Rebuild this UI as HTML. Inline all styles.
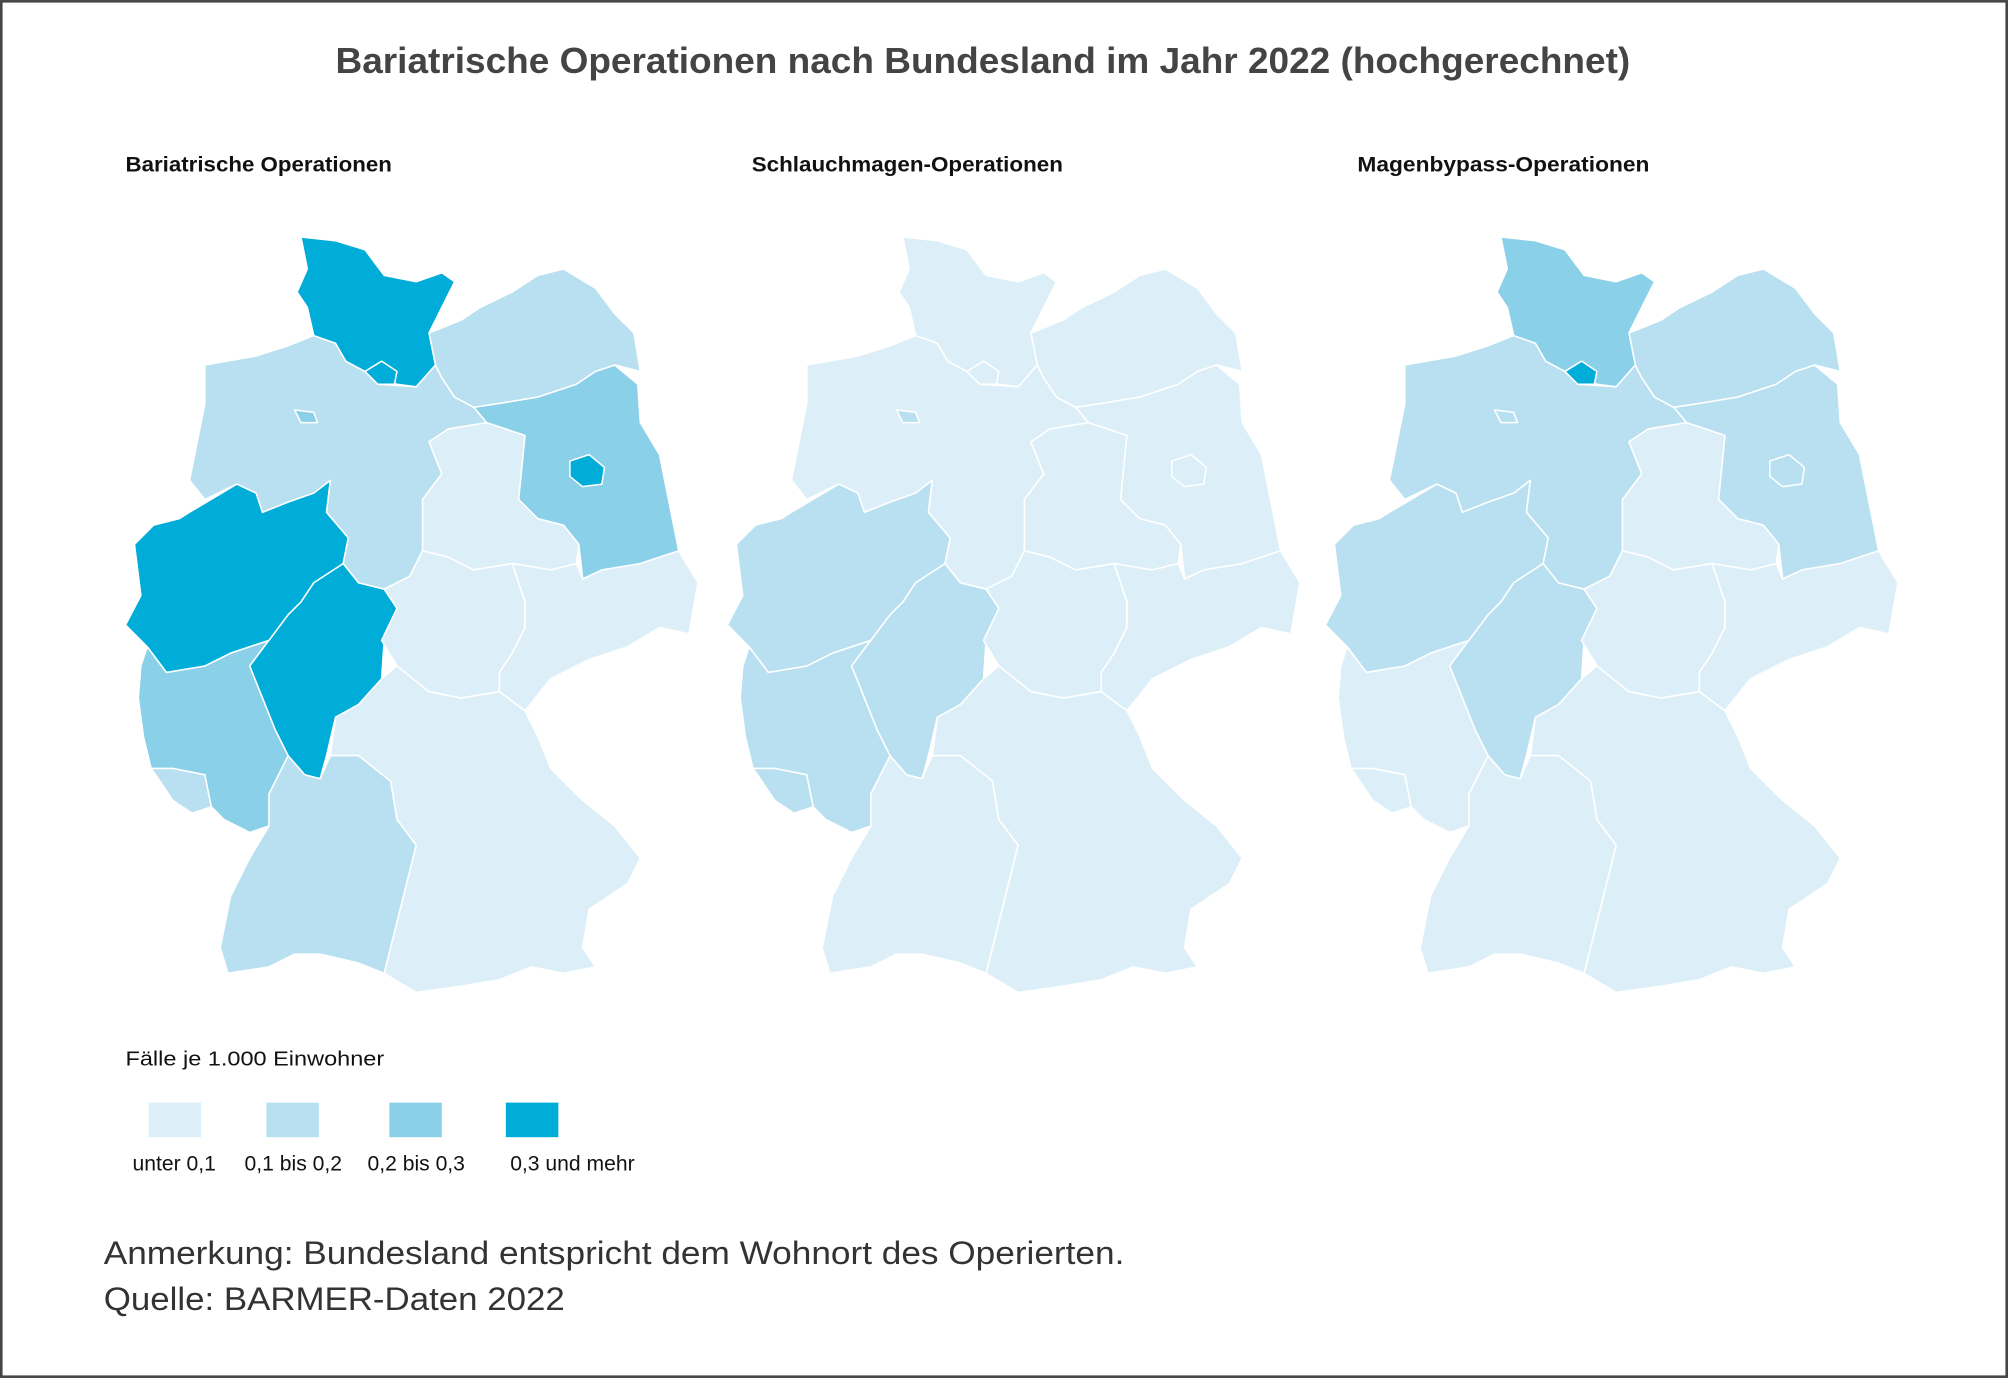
<!DOCTYPE html>
<html><head><meta charset="utf-8"><style>
html,body{margin:0;padding:0;background:#fff}
svg{display:block}
text{font-family:"Liberation Sans",sans-serif}
</style></head><body>
<svg id="chart" width="2008" height="1378" viewBox="0 0 1568 1076" xmlns="http://www.w3.org/2000/svg">
<rect x="1" y="1" width="1566" height="1074" fill="#fff" stroke="#444" stroke-width="2"/>
<text x="262" y="57" textLength="1011" lengthAdjust="spacingAndGlyphs" font-size="28" fill="#444" font-weight="bold">Bariatrische Operationen nach Bundesland im Jahr 2022 (hochgerechnet)</text>
<text x="98" y="134" textLength="208" lengthAdjust="spacingAndGlyphs" font-size="16.5" font-weight="bold" fill="#111">Bariatrische Operationen</text>
<text x="587" y="134" textLength="243" lengthAdjust="spacingAndGlyphs" font-size="16.5" font-weight="bold" fill="#111">Schlauchmagen-Operationen</text>
<text x="1060" y="134" textLength="228" lengthAdjust="spacingAndGlyphs" font-size="16.5" font-weight="bold" fill="#111">Magenbypass-Operationen</text>
<g id="maps"></g>
<text x="98" y="832" textLength="202" lengthAdjust="spacingAndGlyphs" font-size="16" fill="#111">Fälle je 1.000 Einwohner</text>
<g id="legend"></g>
<text x="81" y="987" textLength="797" lengthAdjust="spacingAndGlyphs" font-size="25" fill="#333">Anmerkung: Bundesland entspricht dem Wohnort des Operierten.</text>
<text x="81" y="1023" textLength="360" lengthAdjust="spacingAndGlyphs" font-size="25" fill="#333">Quelle: BARMER-Daten 2022</text>
</svg>
<script>
const states=["SH","HH","MV","BB","BE","NI","HB","NW","HE","RP","SL","BW","BY","TH","ST","SN"];
const valuesBariatric=[3,3,1,2,3,1,2,3,3,2,1,1,0,0,0,0];
const valuesSleeve=[0,0,0,0,0,0,1,1,1,1,1,0,0,0,0,0];
const valuesBypass=[2,3,1,1,1,1,1,1,1,0,0,0,0,0,0,0];
const legendLabels=["unter 0,1","0,1 bis 0,2","0,2 bis 0,3","0,3 und mehr"];
const colors=["#dceff8","#b8e0f1","#8bd0e9","#00acd8"];
const shapes={
SH:"235,185 262,188 285,195 300,215 325,220 345,213 355,220 345,240 335,260 340,285 325,302 310,300 295,295 285,290 270,282 262,268 245,262 240,240 232,228 240,210",
HH:"285,290 298,282 310,290 308,300 295,300",
MV:"335,260 360,250 375,240 400,228 420,215 440,210 465,225 480,245 495,260 500,290 480,285 465,290 450,300 420,310 390,315 370,318 355,310 345,295 340,285",
BB:"370,318 390,315 420,310 450,300 465,290 480,285 498,300 500,330 515,355 520,380 530,430 500,440 470,445 455,452 452,425 440,410 420,405 405,390 410,340 395,335 380,330",
BE:"445,360 460,355 472,365 470,378 455,380 445,372",
NI:"160,285 200,278 225,270 245,262 262,268 270,282 285,290 295,300 325,302 340,285 345,295 355,310 370,318 380,330 350,335 335,345 345,370 330,390 330,430 320,450 300,460 280,455 268,440 272,420 255,400 258,375 245,385 225,392 205,400 200,385 185,378 160,390 148,375 155,340 160,315",
HB:"230,320 245,322 248,330 235,330",
NW:"148,400 185,378 200,385 205,400 225,392 245,385 258,375 255,400 272,420 268,440 245,455 235,470 225,480 210,500 180,510 160,520 130,525 115,505 98,488 110,465 105,425 120,410 140,405",
HE:"268,440 280,455 300,460 310,475 300,500 298,530 280,550 262,560 255,590 250,608 238,605 225,590 215,570 205,545 195,520 210,500 225,480 235,470 245,455",
RP:"115,505 130,525 160,520 180,510 210,500 195,520 205,545 215,570 225,590 210,620 210,645 195,650 175,640 165,630 160,605 135,600 118,600 112,575 108,545 110,520",
SL:"118,600 135,600 160,605 165,630 150,635 135,625 125,610",
BW:"210,620 225,590 238,605 250,608 258,590 280,590 305,610 310,640 325,660 315,700 305,740 300,760 280,752 250,745 230,745 210,755 178,760 172,740 180,700 195,670 210,645",
BY:"258,590 262,560 280,550 298,530 310,520 335,540 360,545 390,540 410,555 420,575 430,600 455,625 480,645 500,670 490,690 460,710 455,740 465,755 440,760 415,755 390,765 360,770 325,775 300,760 305,740 315,700 325,660 310,640 305,610 280,590",
TH:"300,460 320,450 330,430 350,435 370,445 400,440 410,470 410,490 400,510 390,525 390,540 360,545 335,540 310,520 298,500 310,475",
ST:"335,345 350,335 380,330 395,335 410,340 405,390 420,405 440,410 452,425 450,440 430,445 400,440 370,445 350,435 330,430 330,390 345,370",
SN:"400,440 430,445 450,440 455,452 470,445 500,440 530,430 545,455 538,495 515,490 490,505 460,515 430,530 410,555 390,540 390,525 400,510 410,490 410,470"
};
const NS="http://www.w3.org/2000/svg";
const mapsG=document.getElementById('maps');
const series=[valuesBariatric,valuesSleeve,valuesBypass];
const names=["bariatric","sleeve","bypass"];
const offsets=[0,470,937];
const order=["BY","BW","SL","RP","HE","NW","NI","TH","SN","ST","BB","MV","SH","HB","HH","BE"];
series.forEach((vals,m)=>{
  const g=document.createElementNS(NS,'g');
  g.setAttribute('transform','translate('+offsets[m]+',0)');
  
  
  order.forEach(s=>{
    const i=states.indexOf(s);
    const p=document.createElementNS(NS,'polygon');
    p.setAttribute('points',shapes[s]);
    p.setAttribute('fill',colors[vals[i]]);
    p.setAttribute('stroke','#fff');
    p.setAttribute('stroke-width','1.2');
    p.setAttribute('stroke-linejoin','round');
    
    
    g.appendChild(p);
  });
  mapsG.appendChild(g);
});
const lg=document.getElementById('legend');
const lx=[116,208,304,395], tx=[136,229,325,447];
legendLabels.forEach((l,i)=>{
  const r=document.createElementNS(NS,'rect');
  r.setAttribute('x',lx[i]);r.setAttribute('y',861);r.setAttribute('width',41);r.setAttribute('height',27);
  r.setAttribute('fill',colors[i]);
  
  
  lg.appendChild(r);
  const t=document.createElementNS(NS,'text');
  t.setAttribute('x',tx[i]);t.setAttribute('y',914);t.setAttribute('text-anchor','middle');
  t.setAttribute('font-size','16.5');t.setAttribute('fill','#111');
  t.textContent=l;
  
  
  lg.appendChild(t);
});
</script>
</body></html>
